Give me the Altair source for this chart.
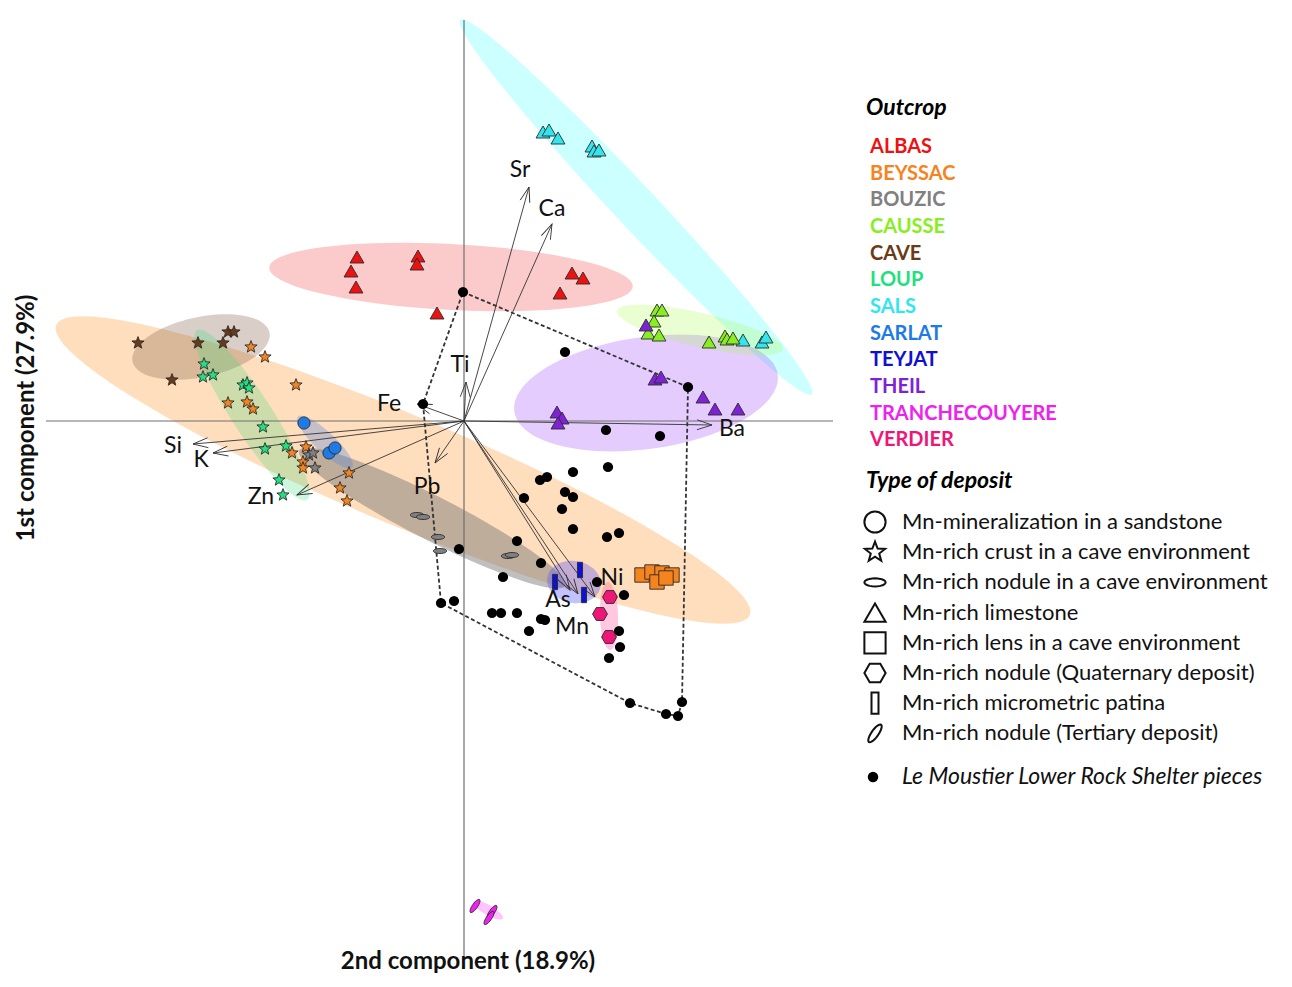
import math
import numpy as np
import pandas as pd
import altair as alt

# ---------------- data (PCA scores, 2nd component on x, 1st on y) ----------------
outcrops = ["ALBAS", "BEYSSAC", "BOUZIC", "CAUSSE", "CAVE", "LOUP", "SALS",
            "SARLAT", "TEYJAT", "THEIL", "TRANCHECOUYERE", "VERDIER"]
outcrop_colors = ["#ee1111", "#f5841f", "#808080", "#88ee22", "#6b3a16", "#22e080",
                  "#33e6ee", "#1e7be6", "#1010d0", "#7f22d6", "#ee22ee", "#ee1677"]

deposits = ["Mn-mineralization in a sandstone",
            "Mn-rich crust in a cave environment",
            "Mn-rich nodule in a cave environment",
            "Mn-rich limestone",
            "Mn-rich lens in a cave environment",
            "Mn-rich nodule (Quaternary deposit)",
            "Mn-rich micrometric patina",
            "Mn-rich nodule (Tertiary deposit)"]
lm_label = "Le Moustier Lower Rock Shelter pieces"

sals_x = [0.79, 0.85, 0.94, 1.28, 1.30, 1.35, 2.79, 2.98, 3.02]
sals_y = [2.89, 2.91, 2.83, 2.75, 2.70, 2.71, 0.81, 0.79, 0.84]
causse_x = [1.93, 1.98, 1.90, 1.84, 1.95, 2.45, 2.61, 2.63, 2.69]
causse_y = [1.11, 1.11, 1.00, 0.88, 0.86, 0.79, 0.85, 0.82, 0.83]
theil_x = [1.82, 1.91, 1.97, 2.39, 2.51, 2.74, 0.93, 0.98, 0.94]
theil_y = [0.96, 0.42, 0.44, 0.24, 0.12, 0.12, 0.09, 0.03, -0.02]
albas_x = [-1.07, -1.13, -1.08, -0.46, -0.47, -0.27, 1.08, 1.19, 0.96]
albas_y = [1.64, 1.50, 1.34, 1.65, 1.57, 1.08, 1.48, 1.43, 1.28]
cave_x = [-3.26, -2.66, -2.41, -2.36, -2.30, -2.92]
cave_y = [0.78, 0.78, 0.78, 0.89, 0.89, 0.41]
loup_x = [-2.60, -2.61, -2.51, -2.21, -2.17, -2.15, -2.01, -1.99, -1.78, -1.85, -1.81]
loup_y = [0.57, 0.44, 0.46, 0.36, 0.38, 0.33, -0.06, -0.28, -0.25, -0.59, -0.74]
beyssac_crust_x = [-2.13, -1.99, -1.68, -2.36, -2.17, -2.11, -1.58, -1.72, -1.61, -1.61, -1.15, -1.24, -1.17]
beyssac_crust_y = [0.74, 0.64, 0.36, 0.18, 0.19, 0.12, -0.26, -0.32, -0.41, -0.47, -0.52, -0.67, -0.80]
beyssac_lens_x = [1.78, 1.88, 1.98, 2.08, 1.93, 2.02]
beyssac_lens_y = [-1.54, -1.51, -1.52, -1.54, -1.61, -1.57]
bouzic_crust_x = [-1.55, -1.51, -1.49]
bouzic_crust_y = [-0.34, -0.32, -0.47]
bouzic_nodule_x = [-0.47, -0.41, -0.26, -0.24, 0.44, 0.48]
bouzic_nodule_y = [-0.94, -0.96, -1.16, -1.30, -1.35, -1.34]
sarlat_x = [-1.60, -1.35, -1.29]
sarlat_y = [-0.02, -0.32, -0.27]
teyjat_x = [0.91, 1.16, 1.20]
teyjat_y = [-1.61, -1.49, -1.74]
verdier_x = [1.46, 1.36, 1.45]
verdier_y = [-1.76, -1.93, -2.16]
tranche_x = [0.11, 0.28, 0.25]
tranche_y = [-4.85, -4.91, -4.97]

lm_x = [-0.01, 1.01, 2.24, 1.42, 1.96, -0.41, 1.44, 1.09, 0.83, 0.76, 1.01, 1.09, 0.60,
        0.98, 1.09, 1.43, 1.55, 0.53, -0.05, 0.77, 0.39, 1.33, 1.60, -0.23, -0.10, 0.28,
        0.37, 0.53, 0.77, 0.81, 0.65, 1.55, 1.56, 1.45, 1.66, 2.02, 2.14, 2.18]
lm_y = [1.29, 0.69, 0.34, -0.09, -0.15, 0.17, -0.46, -0.51, -0.56, -0.59, -0.71, -0.76,
        -0.77, -0.88, -1.08, -1.16, -1.12, -1.20, -1.28, -1.42, -1.56, -1.61, -1.74, -1.82,
        -1.80, -1.92, -1.92, -1.92, -1.98, -1.99, -2.10, -2.10, -2.26, -2.37, -2.82, -2.93,
        -2.95, -2.81]
hull_order = [0, 2, 37, 36, 35, 34, 23, 5, 0]

var_names = ["Sr", "Ca", "Ti", "Fe", "Si", "K", "Zn", "Pb", "As", "Mn", "Ni", "Ba"]
load_x = [0.65, 0.88, 0.02, -0.47, -2.71, -2.51, -1.67, -0.29, 1.06, 1.14, 1.31, 2.48]
load_y = [2.34, 1.97, 0.39, 0.17, -0.23, -0.32, -0.74, -0.42, -1.69, -1.73, -1.76, -0.04]
lab_x = [0.56, 0.88, -0.04, -0.75, -2.91, -2.63, -2.03, -0.37, 0.94, 1.08, 1.48, 2.68]
lab_y = [2.51, 2.12, 0.56, 0.17, -0.25, -0.39, -0.76, -0.66, -1.79, -2.06, -1.57, -0.08]

# confidence ellipses: outcrop, centre x, centre y, semi-axis a, semi-axis b, angle (deg)
ell_name = ["BEYSSAC", "SALS", "ALBAS", "THEIL", "CAUSSE", "CAVE", "LOUP", "BOUZIC",
            "SARLAT", "TEYJAT", "VERDIER", "TRANCHECOUYERE"]
ell_cx = [-0.61, 1.72, -0.13, 1.82, 2.36, -2.63, -2.12, -0.32, -1.39, 1.10, 1.45, 0.24]
ell_cy = [-0.49, 2.14, 1.44, 0.28, 0.91, 0.74, 0.06, -0.97, -0.21, -1.61, -1.95, -4.89]
ell_a = [3.76, 2.57, 1.82, 1.33, 0.85, 0.70, 1.01, 1.49, 0.37, 0.27, 0.34, 0.17]
ell_b = [0.55, 0.21, 0.33, 0.56, 0.17, 0.30, 0.20, 0.22, 0.10, 0.21, 0.09, 0.05]
ell_ang = [-22.7, -46.8, -3.0, 8.0, -13.0, 12.0, -57.0, -27.0, -43.0, -10.0, 92.0, -30.0]
ell_fill = ["#ff9933", "#33ffff", "#f03030", "#9933ff", "#99ff33", "#80604a", "#33dd77",
            "#707070", "#5588dd", "#5050ff", "#ff4499", "#ff55ff"]
ell_op = [0.32, 0.25, 0.25, 0.25, 0.22, 0.30, 0.25, 0.45, 0.35, 0.35, 0.30, 0.35]

# ---------------- marker shapes ----------------
def poly_path(pts):
    return "M" + "L".join(f"{px:.3f},{py:.3f}" for px, py in pts) + "Z"

star_pts = []
for k in range(10):
    r = 1.0 if k % 2 == 0 else 0.42
    t = math.radians(-90 + 36 * k)
    star_pts.append((r * math.cos(t), r * math.sin(t)))
star_path = poly_path(star_pts)
hex_path = poly_path([(math.cos(math.radians(60 * k)), math.sin(math.radians(60 * k))) for k in range(6)])
nod_path = poly_path([(math.cos(t), 0.38 * math.sin(t)) for t in np.linspace(0, 2 * math.pi, 24, endpoint=False)])
phi = math.radians(-55)
ter_path = poly_path([(math.cos(t) * math.cos(phi) - 0.33 * math.sin(t) * math.sin(phi),
                       math.cos(t) * math.sin(phi) + 0.33 * math.sin(t) * math.cos(phi))
                      for t in np.linspace(0, 2 * math.pi, 24, endpoint=False)])
patina_path = "M-0.33,-1L0.33,-1L0.33,1L-0.33,1Z"
shape_range = ["circle", star_path, nod_path, "triangle-up", "square", hex_path, patina_path, ter_path]
size_range = [150, 250, 400, 170, 135, 210, 250, 280]

# ---------------- frames ----------------
groups = [
    ("SALS", 3, sals_x, sals_y), ("CAUSSE", 3, causse_x, causse_y),
    ("THEIL", 3, theil_x, theil_y), ("ALBAS", 3, albas_x, albas_y),
    ("CAVE", 1, cave_x, cave_y), ("LOUP", 1, loup_x, loup_y),
    ("BEYSSAC", 1, beyssac_crust_x, beyssac_crust_y), ("BEYSSAC", 4, beyssac_lens_x, beyssac_lens_y),
    ("BOUZIC", 1, bouzic_crust_x, bouzic_crust_y), ("BOUZIC", 2, bouzic_nodule_x, bouzic_nodule_y),
    ("SARLAT", 0, sarlat_x, sarlat_y), ("TEYJAT", 6, teyjat_x, teyjat_y),
    ("VERDIER", 5, verdier_x, verdier_y), ("TRANCHECOUYERE", 7, tranche_x, tranche_y),
]
rows = []
for name, di, xs, ys in groups:
    for xv, yv in zip(xs, ys):
        rows.append({"x": xv, "y": yv, "outcrop": name, "dep": deposits[di]})
pts_df = pd.DataFrame(rows)
lm_df = pd.DataFrame({"x": lm_x, "y": lm_y})
hull_df = pd.DataFrame({"x": [lm_x[i] for i in hull_order], "y": [lm_y[i] for i in hull_order],
                        "i": list(range(len(hull_order)))})
load_df = pd.DataFrame({"x0": 0.0, "y0": 0.0, "x": load_x, "y": load_y, "name": var_names,
                        "lx": lab_x, "ly": lab_y})
load_df["ang"] = (np.degrees(np.arctan2(load_df["x"], load_df["y"])) + 360) % 360

XDOM = [-4.56, 8.14]
YDOM = [-5.55, 4.13]
W, H = 1270, 968


def X(f):
    return alt.X(f, type="quantitative", scale=alt.Scale(domain=XDOM, nice=False, zero=False), axis=None)


def Y(f):
    return alt.Y(f, type="quantitative", scale=alt.Scale(domain=YDOM, nice=False, zero=False), axis=None)


layers = []

# ellipses
for k in range(len(ell_name)):
    t = np.linspace(0, 2 * math.pi, 91)
    th = math.radians(ell_ang[k])
    ex = ell_cx[k] + ell_a[k] * np.cos(t) * math.cos(th) - ell_b[k] * np.sin(t) * math.sin(th)
    ey = ell_cy[k] + ell_a[k] * np.cos(t) * math.sin(th) + ell_b[k] * np.sin(t) * math.cos(th)
    edf = pd.DataFrame({"x": ex, "y": ey, "i": np.arange(len(t))})
    layers.append(
        alt.Chart(edf).mark_line(fill=ell_fill[k], fillOpacity=ell_op[k], strokeOpacity=0, strokeWidth=0)
        .encode(x=X("x"), y=Y("y"), order=alt.Order("i:Q"))
    )

# axes lines
axes_df = pd.DataFrame({"x": [-4.18, 0.0], "y": [0.0, 4.01], "x2": [3.69, 0.0], "y2": [0.0, -5.37]})
layers.append(alt.Chart(axes_df).mark_rule(color="#6e6e6e", strokeWidth=1.2)
              .encode(x=X("x"), y=Y("y"), x2=alt.X2("x2"), y2=alt.Y2("y2")))

# convex hull of Le Moustier pieces
layers.append(alt.Chart(hull_df).mark_line(color="#333333", strokeWidth=1.8, strokeDash=[4, 2.5])
              .encode(x=X("x"), y=Y("y"), order=alt.Order("i:Q")))

# loading vectors
layers.append(alt.Chart(load_df).mark_rule(color="#333333", strokeWidth=0.9)
              .encode(x=X("x0"), y=Y("y0"), x2=alt.X2("x"), y2=alt.Y2("y")))
layers.append(alt.Chart(load_df).mark_point(shape="M-0.33,1L0,0L0.33,1", filled=False, color="#333333",
                                             strokeWidth=0.9, size=900, opacity=1)
              .encode(x=X("x"), y=Y("y"), angle=alt.Angle("ang:Q", scale=None)))
layers.append(alt.Chart(load_df).mark_text(font="Lato", fontSize=23, color="#111111",
                                            align="center", baseline="middle")
              .encode(x=X("lx"), y=Y("ly"), text="name:N"))

# Le Moustier pieces
layers.append(alt.Chart(lm_df).mark_circle(color="#000000", size=105, opacity=1)
              .encode(x=X("x"), y=Y("y")))

# reference outcrop samples
layers.append(alt.Chart(pts_df).mark_point(filled=True, stroke="#2a2a2a", strokeWidth=0.9, opacity=1)
              .encode(x=X("x"), y=Y("y"),
                      color=alt.Color("outcrop:N", scale=alt.Scale(domain=outcrops, range=outcrop_colors), legend=None),
                      shape=alt.Shape("dep:N", scale=alt.Scale(domain=deposits, range=shape_range), legend=None),
                      size=alt.Size("dep:O", scale=alt.Scale(domain=deposits, range=size_range), legend=None)))

# ---------------- legend (placed in score units to the right of the plot) ----------------
LEG_X = 4.02
leg_title_df = pd.DataFrame({"x": [LEG_X, LEG_X], "y": [3.13, -0.60], "t": ["Outcrop", "Type of deposit"]})
layers.append(alt.Chart(leg_title_df).mark_text(font="Lato", fontSize=23, fontWeight="bold", fontStyle="italic",
                                                 color="#000000", align="left", baseline="middle")
              .encode(x=X("x"), y=Y("y"), text="t:N"))

out_df = pd.DataFrame({"x": LEG_X + 0.04, "y": [2.74 - 0.2665 * k for k in range(len(outcrops))],
                       "outcrop": outcrops})
layers.append(alt.Chart(out_df).mark_text(font="Lato", fontSize=20, fontWeight="bold", align="left",
                                           baseline="middle")
              .encode(x=X("x"), y=Y("y"), text="outcrop:N",
                      color=alt.Color("outcrop:N", scale=alt.Scale(domain=outcrops, range=outcrop_colors), legend=None)))

dep_df = pd.DataFrame({"sx": LEG_X + 0.09, "tx": LEG_X + 0.36,
                       "y": [-1.01 - 0.302 * k for k in range(len(deposits))], "dep": deposits})
layers.append(alt.Chart(dep_df).mark_point(filled=False, color="#111111", strokeWidth=2, size=450, opacity=1)
              .encode(x=X("sx"), y=Y("y"),
                      shape=alt.Shape("dep:N", scale=alt.Scale(domain=deposits, range=shape_range), legend=None)))
layers.append(alt.Chart(dep_df).mark_text(font="Lato", fontSize=22, color="#111111", align="left",
                                           baseline="middle")
              .encode(x=X("tx"), y=Y("y"), text="dep:N"))

lm_leg_df = pd.DataFrame({"sx": [LEG_X + 0.07], "tx": [LEG_X + 0.36], "y": [-3.56], "t": [lm_label]})
layers.append(alt.Chart(lm_leg_df).mark_circle(color="#000000", size=110, opacity=1)
              .encode(x=X("sx"), y=Y("y")))
layers.append(alt.Chart(lm_leg_df).mark_text(font="Lato", fontSize=23, fontStyle="italic", color="#111111",
                                              align="left", baseline="middle")
              .encode(x=X("tx"), y=Y("y"), text="t:N"))

# axis titles
xt_df = pd.DataFrame({"x": [0.04], "y": [-5.41], "t": ["2nd component (18.9%)"]})
yt_df = pd.DataFrame({"x": [-4.37], "y": [0.03], "t": ["1st component (27.9%)"]})
layers.append(alt.Chart(xt_df).mark_text(font="Lato", fontSize=24, fontWeight="bold", color="#111111",
                                          align="center", baseline="middle")
              .encode(x=X("x"), y=Y("y"), text="t:N"))
layers.append(alt.Chart(yt_df).mark_text(font="Lato", fontSize=24, fontWeight="bold", color="#111111",
                                          align="center", baseline="middle", angle=270)
              .encode(x=X("x"), y=Y("y"), text="t:N"))

chart = alt.layer(*layers).properties(
    width=W, height=H, padding=0, autosize=alt.AutoSizeParams(type="none")
).configure_view(stroke=None)

chart.save("out.html", embed_options={"renderer": "svg", "actions": False})
